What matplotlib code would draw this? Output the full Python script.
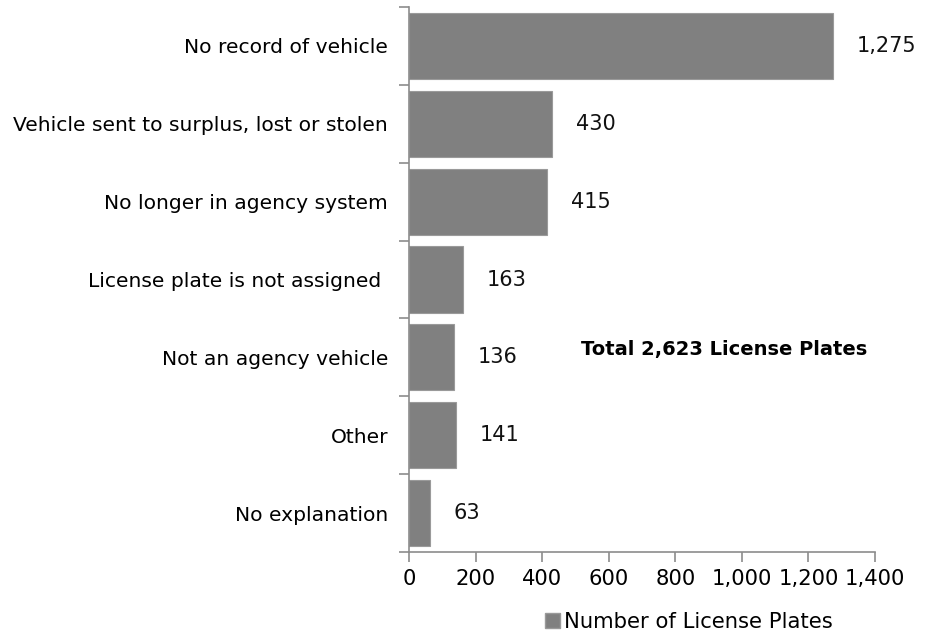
import numpy as np
import matplotlib.pyplot as plt
from matplotlib.patches import Patch
from matplotlib.ticker import FuncFormatter

plt.rcParams['font.family'] = 'DejaVu Sans'

# Reasons given for license plates, top to bottom
categories = [
    'No record of vehicle',
    'Vehicle sent to surplus, lost or stolen',
    'No longer in agency system',
    'License plate is not assigned ',
    'Not an agency vehicle',
    'Other',
    'No explanation',
]
plates = [1275, 430, 415, 163, 136, 141, 63]
x_ticks = [0, 200, 400, 600, 800, 1000, 1200, 1400]

bar_color = '#808080'
axis_color = '#8c8c8c'

fig = plt.figure(figsize=(9.35, 6.41), dpi=100)
ax = fig.add_axes([0.4374, 0.1388, 0.4984, 0.8502])

y = np.arange(len(categories))
ax.barh(y, plates, height=0.85, color=bar_color, edgecolor='#9a9a9a', linewidth=0.8)
ax.set_ylim(len(categories) - 0.5, -0.5)
ax.set_xlim(0, 1400)

# value labels just past the end of each bar
for yi, v in zip(y, plates):
    ax.annotate(f'{v:,}', xy=(v, yi), xytext=(17, 0), textcoords='offset points',
                ha='left', va='center', fontsize=15, color='#111111')

# category names sit between ticks placed on the band boundaries
ax.set_yticks(np.arange(len(categories) + 1) - 0.5)
ax.set_yticklabels([])
ax.set_yticks(y, minor=True)
ax.set_yticklabels(categories, minor=True, fontsize=14.6)
ax.tick_params(axis='y', which='minor', length=0, pad=15)
ax.tick_params(axis='y', which='major', length=7, color=axis_color, width=1.2)

ax.set_xticks(x_ticks)
ax.xaxis.set_major_formatter(FuncFormatter(lambda v, p: f'{int(v):,}'))
ax.tick_params(axis='x', length=7, color=axis_color, width=1.2, labelsize=15.2, pad=5)

for side in ('top', 'right'):
    ax.spines[side].set_visible(False)
for side in ('left', 'bottom'):
    ax.spines[side].set_color(axis_color)
    ax.spines[side].set_linewidth(1.2)

ax.text(0.676, 0.371, 'Total 2,623 License Plates', transform=ax.transAxes,
        ha='center', va='center', fontsize=14, fontweight='bold')

fig.legend(handles=[Patch(facecolor=bar_color, edgecolor='#9a9a9a')],
           labels=['Number of License Plates'], loc='center', bbox_to_anchor=(0.737, 0.03),
           frameon=False, fontsize=15.2, handlelength=0.7, handleheight=0.7, handletextpad=0.2)

fig.savefig('out.png', dpi=100)
